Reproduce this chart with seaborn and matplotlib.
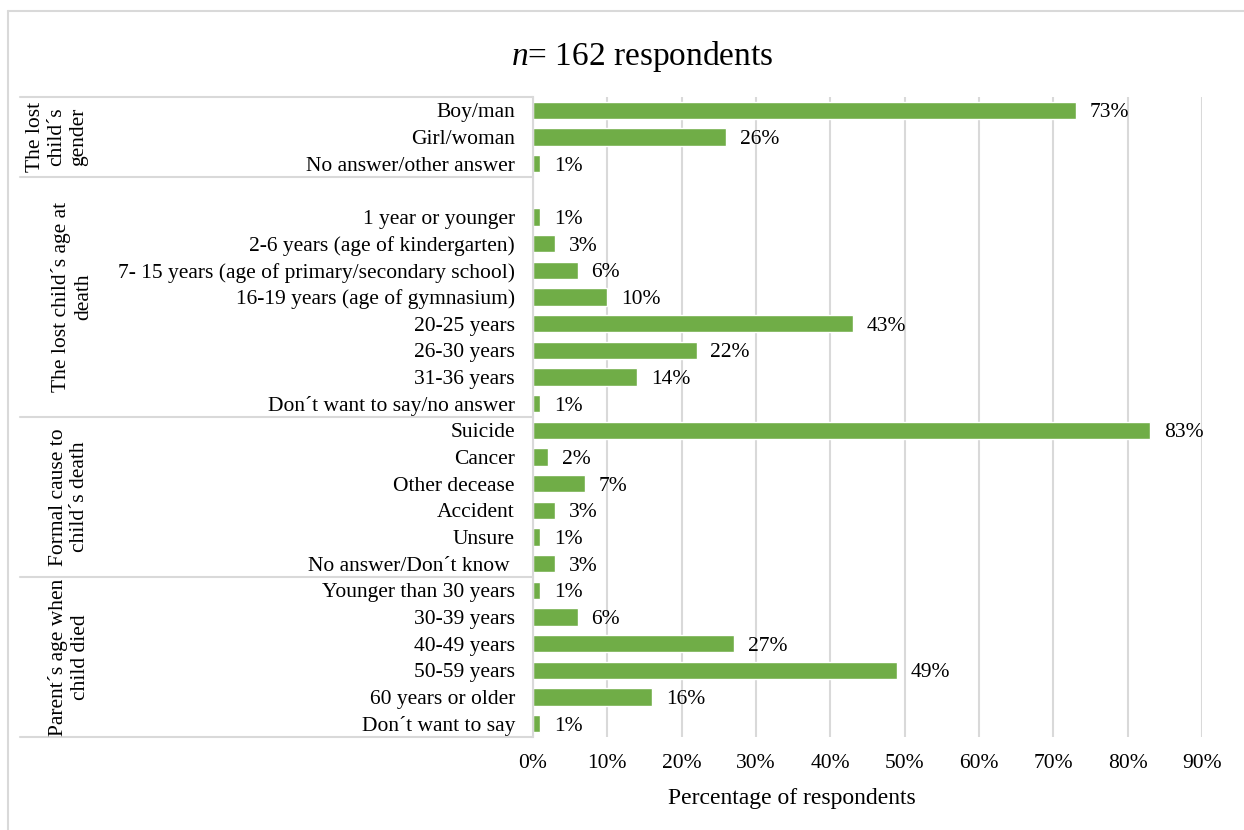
import matplotlib
matplotlib.use("Agg")
import matplotlib.pyplot as plt
import seaborn as sns
import pandas as pd
import numpy as np
from matplotlib.lines import Line2D

# ---- data ----
gender_labels = ["Boy/man", "Girl/woman", "No answer/other answer"]
gender_values = [73, 26, 1]
age_labels = ["1 year or younger", "2-6 years (age of kindergarten)",
              "7- 15 years (age of primary/secondary school)",
              "16-19 years (age of gymnasium)", "20-25 years", "26-30 years",
              "31-36 years", "Don\u00b4t want to say/no answer"]
age_values = [1, 3, 6, 10, 43, 22, 14, 1]
cause_labels = ["Suicide", "Cancer", "Other decease", "Accident", "Unsure",
                "No answer/Don\u00b4t know "]
cause_values = [83, 2, 7, 3, 1, 3]
parent_labels = ["Younger than 30 years", "30-39 years", "40-49 years",
                 "50-59 years", "60 years or older", "Don\u00b4t want to say"]
parent_values = [1, 6, 27, 49, 16, 1]
group_names = ["The lost\nchild\u00b4s\ngender",
               "The lost child\u00b4s age at\ndeath",
               "Formal cause to\nchild\u00b4s death",
               "Parent\u00b4s age when\nchild died"]
x_ticks = [0, 10, 20, 30, 40, 50, 60, 70, 80, 90]
title_text = "$\\mathit{n}$= 162 respondents"
x_title = "Percentage of respondents"

blank = " "
categories = gender_labels + [blank] + age_labels + cause_labels + parent_labels
values = gender_values + [np.nan] + age_values + cause_values + parent_values
df = pd.DataFrame({"cat": categories, "val": values})

sns.set_theme(style="white")
plt.rcParams["font.family"] = ["Liberation Serif", "DejaVu Serif"]
plt.rcParams["mathtext.fontset"] = "custom"
plt.rcParams["mathtext.it"] = "Liberation Serif:italic"
plt.rcParams["mathtext.rm"] = "Liberation Serif"
plt.rcParams["text.color"] = "black"
plt.rcParams["xtick.labelcolor"] = "black"
plt.rcParams["ytick.labelcolor"] = "black"

FS = 15.5
W, H = 1244, 830
fig = plt.figure(figsize=(W / 100, H / 100), dpi=100)
ax_l, ax_r, ax_t, ax_b = 533, 1202, 97, 737
ax = fig.add_axes([ax_l / W, 1 - ax_b / H, (ax_r - ax_l) / W, (ax_b - ax_t) / H])

green = "#70AD47"
grid_c = "#D9D9D9"
sns.barplot(data=df, y="cat", x="val", order=categories, orient="h",
            color=green, saturation=1, width=0.66, ax=ax, errorbar=None)

ax.set_xlim(0, 90)
ax.set_ylim(len(categories) - 0.5, -0.5)
ax.set_xticks(x_ticks)
ax.set_xticklabels([f"{t}%" for t in x_ticks], fontsize=FS, color="black")
ax.set_yticklabels(categories, fontsize=FS, color="black")
ax.tick_params(axis="x", length=0, pad=12)
ax.tick_params(axis="y", length=0, pad=13)
ax.set_xlabel("")
ax.set_ylabel("")
ax.xaxis.grid(True, color=grid_c, linewidth=1.5)
ax.set_axisbelow(True)
for s in ["top", "right", "bottom"]:
    ax.spines[s].set_visible(False)
ax.spines["left"].set_color(grid_c)
ax.spines["left"].set_linewidth(1.5)

for cont in ax.containers:
    texts = ax.bar_label(cont, labels=[("" if np.isnan(v) else f"{v:.0f}%") for v in cont.datavalues],
                         padding=10, fontsize=FS, color="black")
    for t in texts:
        t.set_va("center_baseline")

# group separators
def fx(px):
    return px / W

def fy(py):
    return 1 - py / H

row_h = (ax_b - ax_t) / len(categories)
bounds = [0, 3, 12, 18, 24]
for b in bounds:
    y = ax_t + b * row_h
    fig.add_artist(Line2D([fx(20), fx(ax_l)], [fy(y), fy(y)], color=grid_c, lw=1.5))

label_x = [57, 72, 69, 69]
for i, name in enumerate(group_names):
    yc = ax_t + (bounds[i] + bounds[i + 1]) / 2 * row_h
    fig.text(fx(label_x[i]), fy(yc), name, rotation=90, ha="center", va="center",
             multialignment="center", fontsize=FS, linespacing=1.2, color="black")

# chart border
fig.add_artist(Line2D([fx(8), fx(8)], [fy(11), 0], color=grid_c, lw=1.5))
fig.add_artist(Line2D([fx(8), 1], [fy(11), fy(11)], color=grid_c, lw=1.5))

fig.text(fx(642), fy(57), title_text, ha="center", va="center", fontsize=24, color="black")
fig.text(fx(792), fy(798), x_title, ha="center", va="center", fontsize=17, color="black")

fig.savefig("out.png", dpi=100)
